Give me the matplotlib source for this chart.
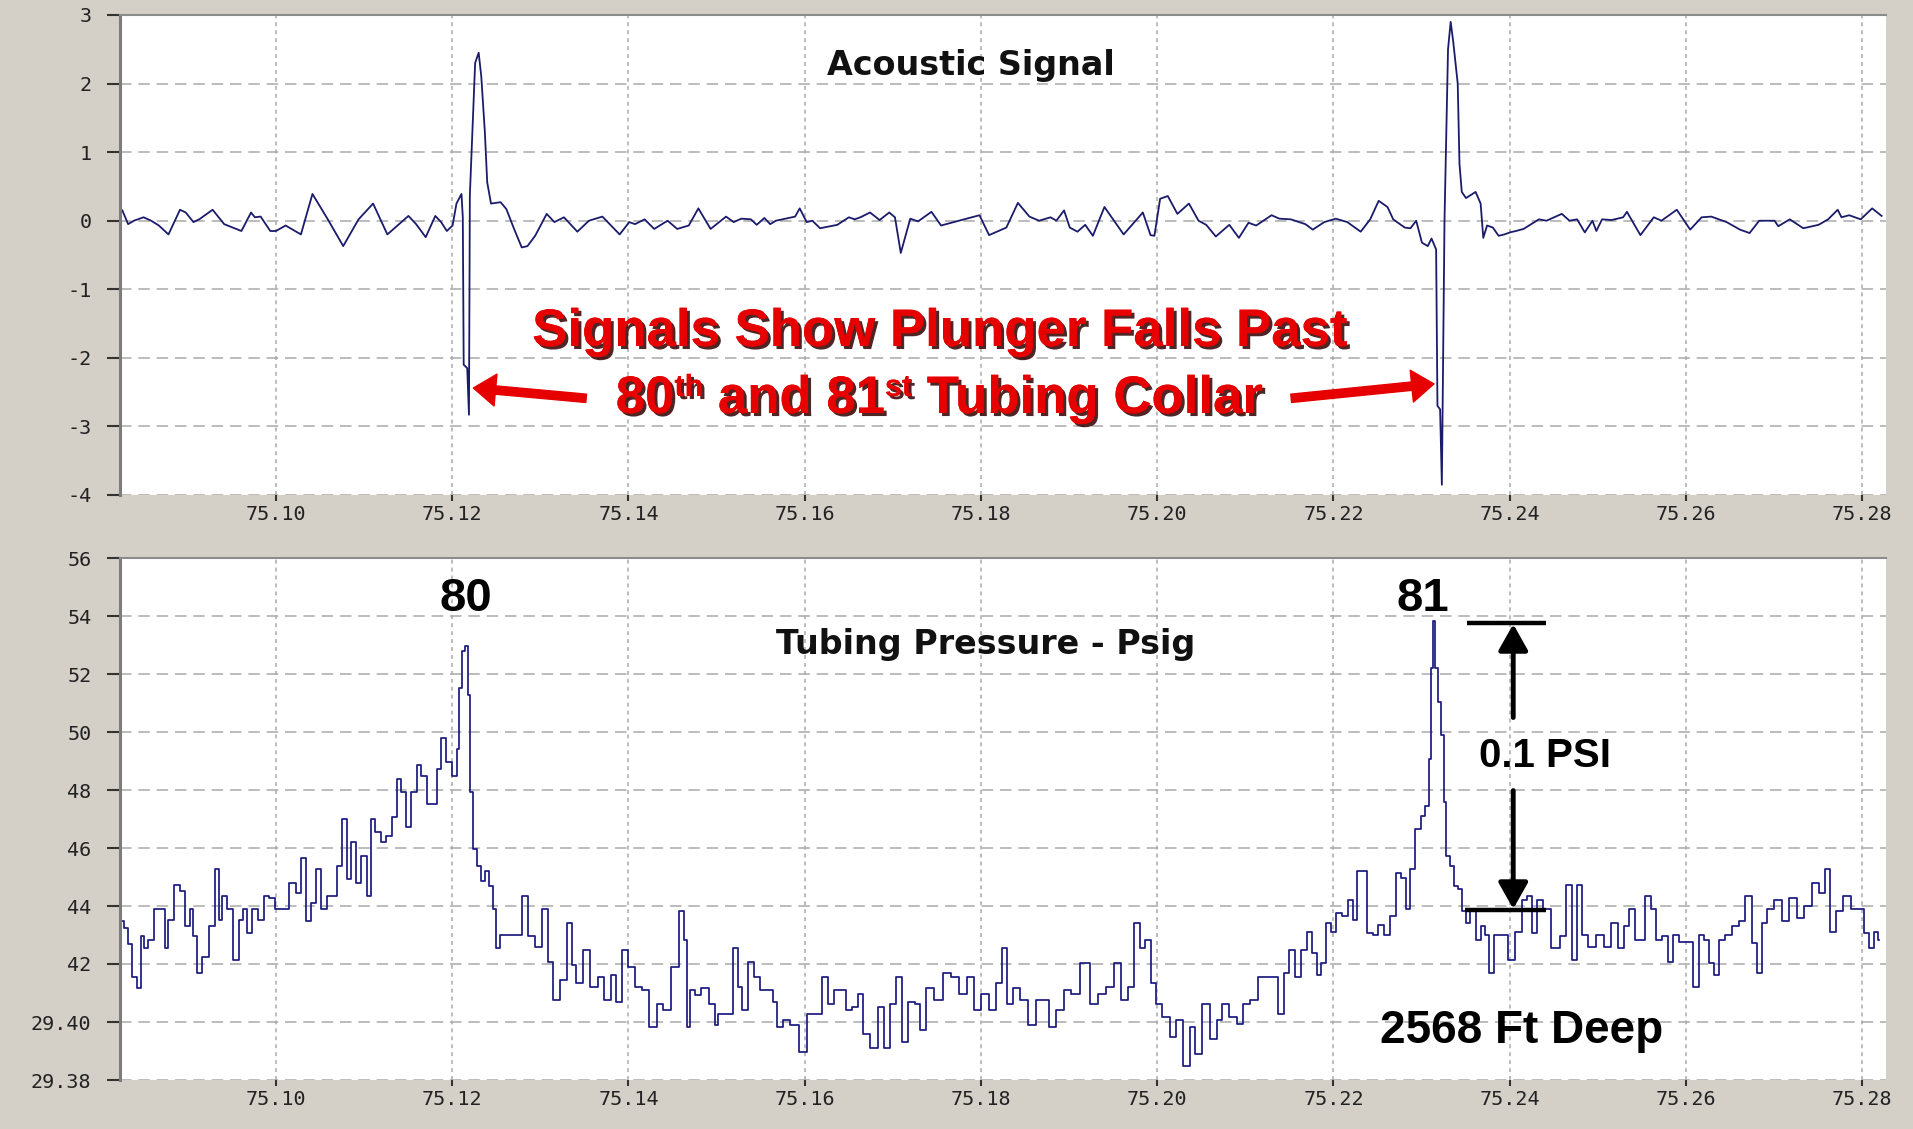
import matplotlib
matplotlib.use("Agg")
import matplotlib.pyplot as plt
from matplotlib import font_manager, patheffects

# ---------------- data ----------------
acoustic_x = [
    75.08257, 75.08322, 75.08388, 75.08497, 75.08584, 75.08671, 75.08780, 75.08845, 75.08911, 75.08976,
    75.09063, 75.09129, 75.09281, 75.09412, 75.09608, 75.09717, 75.09760, 75.09826, 75.09935, 75.10000,
    75.10109, 75.10283, 75.10414, 75.10588, 75.10763, 75.10937, 75.11102, 75.11264, 75.11503, 75.11590,
    75.11699, 75.11808, 75.11874, 75.11939, 75.12004, 75.12048, 75.12105, 75.12120, 75.12130, 75.12170,
    75.12190, 75.12200, 75.12260, 75.12300, 75.12330, 75.12370, 75.12397, 75.12440, 75.12549, 75.12614,
    75.12702, 75.12789, 75.12854, 75.12941, 75.13072, 75.13159, 75.13268, 75.13420, 75.13551, 75.13704,
    75.13900, 75.14009, 75.14074, 75.14183, 75.14292, 75.14444, 75.14553, 75.14684, 75.14793, 75.14932,
    75.15107, 75.15194, 75.15281, 75.15390, 75.15455, 75.15542, 75.15608, 75.15673, 75.15891, 75.15943,
    75.16022, 75.16087, 75.16174, 75.16370, 75.16501, 75.16567, 75.16632, 75.16741, 75.16850, 75.16959,
    75.17024, 75.17090, 75.17198, 75.17286, 75.17438, 75.17547, 75.17721, 75.17983, 75.18092, 75.18288,
    75.18419, 75.18550, 75.18659, 75.18790, 75.18855, 75.18943, 75.19008, 75.19095, 75.19183, 75.19270,
    75.19401, 75.19619, 75.19837, 75.19924, 75.19968, 75.20033, 75.20120, 75.20229, 75.20360, 75.20469,
    75.20556, 75.20665, 75.20818, 75.20927, 75.21036, 75.21123, 75.21298, 75.21385, 75.21516, 75.21681,
    75.21765, 75.21896, 75.22026, 75.22157, 75.22309, 75.22417, 75.22513, 75.22613, 75.22678, 75.22809,
    75.22874, 75.22939, 75.23004, 75.23070, 75.23113, 75.23165, 75.23180, 75.23210, 75.23230, 75.23260,
    75.23300, 75.23330, 75.23360, 75.23410, 75.23430, 75.23456, 75.23504, 75.23613, 75.23670, 75.23700,
    75.23743, 75.23809, 75.23874, 75.23939, 75.24004, 75.24070, 75.24157, 75.24331, 75.24417, 75.24504,
    75.24591, 75.24678, 75.24765, 75.24852, 75.24939, 75.24983, 75.25048, 75.25157, 75.25287, 75.25330,
    75.25483, 75.25635, 75.25722, 75.25896, 75.26048, 75.26178, 75.26287, 75.26461, 75.26613, 75.26722,
    75.26831, 75.27005, 75.27048, 75.27178, 75.27331, 75.27505, 75.27613, 75.27722, 75.27765, 75.27852,
    75.27983, 75.28113, 75.28220,
]
acoustic_y = [
    0.15, -0.05, 0.00, 0.05, 0.00, -0.07, -0.20, -0.02, 0.16, 0.12,
    -0.02, 0.02, 0.16, -0.05, -0.15, 0.12, 0.05, 0.06, -0.15, -0.15,
    -0.07, -0.20, 0.39, 0.02, -0.37, 0.02, 0.25, -0.20, 0.07, -0.05,
    -0.24, 0.07, -0.02, -0.15, -0.07, 0.25, 0.39, 0.05, -2.10, -2.15,
    -2.83, 0.37, 2.30, 2.45, 2.10, 1.30, 0.56, 0.25, 0.27, 0.17,
    -0.12, -0.39, -0.37, -0.22, 0.10, -0.02, 0.05, -0.16, 0.00, 0.06,
    -0.20, -0.02, -0.05, 0.02, -0.12, 0.00, -0.12, -0.07, 0.18, -0.12,
    0.06, -0.02, 0.03, 0.02, -0.06, 0.04, -0.05, 0.00, 0.06, 0.18,
    -0.02, 0.00, -0.11, -0.06, 0.05, 0.02, 0.05, 0.12, 0.01, 0.12,
    0.05, -0.47, 0.03, -0.01, 0.13, -0.07, -0.01, 0.08, -0.21, -0.10,
    0.26, 0.06, 0.00, 0.05, 0.00, 0.15, -0.10, -0.16, -0.06, -0.22,
    0.20, -0.20, 0.12, -0.21, -0.22, 0.32, 0.36, 0.10, 0.25, 0.00,
    -0.06, -0.23, -0.06, -0.25, -0.03, -0.07, 0.08, 0.03, 0.02, -0.05,
    -0.13, -0.02, 0.03, -0.02, -0.16, 0.02, 0.29, 0.20, 0.02, -0.10,
    -0.11, 0.00, -0.32, -0.37, -0.26, -0.42, -2.70, -2.75, -3.85, 0.00,
    2.50, 2.90, 2.60, 2.00, 0.83, 0.42, 0.33, 0.42, 0.25, -0.25,
    -0.07, -0.10, -0.22, -0.20, -0.17, -0.15, -0.12, 0.02, 0.00, 0.05,
    0.10, 0.00, 0.02, -0.17, 0.00, -0.15, 0.02, 0.01, 0.05, 0.13,
    -0.21, 0.05, 0.00, 0.16, -0.13, 0.05, 0.06, -0.02, -0.13, -0.18,
    0.00, 0.00, -0.08, 0.02, -0.11, -0.06, 0.02, 0.16, 0.05, 0.08,
    0.02, 0.18, 0.07,
]

pressure_x = [
    75.08257, 75.08301, 75.08344, 75.08388, 75.08453, 75.08475, 75.08519, 75.08584, 75.08649, 75.08715,
    75.08758, 75.08802, 75.08880, 75.08933, 75.08998, 75.09041, 75.09072, 75.09129, 75.09194, 75.09281,
    75.09333, 75.09368, 75.09412, 75.09477, 75.09543, 75.09608, 75.09651, 75.09695, 75.09760, 75.09826,
    75.09891, 75.09956, 75.10022, 75.10109, 75.10196, 75.10261, 75.10314, 75.10370, 75.10414, 75.10488,
    75.10545, 75.10610, 75.10675, 75.10719, 75.10776, 75.10828, 75.10885, 75.10937, 75.11002, 75.11059,
    75.11089, 75.11155, 75.11220, 75.11285, 75.11351, 75.11394, 75.11438, 75.11503, 75.11569, 75.11625,
    75.11677, 75.11743, 75.11799, 75.11852, 75.11904, 75.11961, 75.12039, 75.12070, 75.12091, 75.12122,
    75.12165, 75.12192, 75.12222, 75.12244, 75.12309, 75.12340, 75.12396, 75.12440, 75.12483, 75.12514,
    75.12571, 75.12745, 75.12832, 75.12889, 75.12985, 75.13063, 75.13115, 75.13181, 75.13268, 75.13333,
    75.13377, 75.13442, 75.13516, 75.13616, 75.13682, 75.13769, 75.13834, 75.13891, 75.13965, 75.14030,
    75.14117, 75.14183, 75.14292, 75.14357, 75.14422, 75.14553, 75.14605, 75.14649, 75.14671, 75.14727,
    75.14793, 75.14858, 75.14967, 75.14998, 75.15041, 75.15150, 75.15216, 75.15259, 75.15325, 75.15390,
    75.15455, 75.15521, 75.15630, 75.15651, 75.15717, 75.15782, 75.15891, 75.15987, 75.16065, 75.16152,
    75.16231, 75.16305, 75.16370, 75.16436, 75.16501, 75.16566, 75.16632, 75.16697, 75.16784, 75.16871,
    75.16928, 75.17002, 75.17067, 75.17133, 75.17220, 75.17285, 75.17329, 75.17416, 75.17525, 75.17612,
    75.17699, 75.17808, 75.17882, 75.17961, 75.18048, 75.18135, 75.18200, 75.18266, 75.18331, 75.18396,
    75.18483, 75.18592, 75.18658, 75.18745, 75.18810, 75.18897, 75.18985, 75.19050, 75.19202, 75.19281,
    75.19377, 75.19464, 75.19551, 75.19629, 75.19703, 75.19769, 75.19834, 75.19900, 75.19965, 75.20008,
    75.20096, 75.20183, 75.20248, 75.20335, 75.20401, 75.20466, 75.20553, 75.20640, 75.20706, 75.20771,
    75.20858, 75.20945, 75.21011, 75.21098, 75.21185, 75.21337, 75.21403, 75.21468, 75.21533, 75.21590,
    75.21664, 75.21739, 75.21783, 75.21835, 75.21891, 75.21948, 75.22000, 75.22065, 75.22130, 75.22196,
    75.22239, 75.22304, 75.22357, 75.22413, 75.22478, 75.22544, 75.22609, 75.22674, 75.22739, 75.22804,
    75.22848, 75.22891, 75.22957, 75.23022, 75.23065, 75.23096, 75.23122, 75.23139, 75.23165, 75.23209,
    75.23239, 75.23261, 75.23296, 75.23348, 75.23391, 75.23435, 75.23478, 75.23522, 75.23587, 75.23652,
    75.23696, 75.23739, 75.23791, 75.23848, 75.23935, 75.24022, 75.24109, 75.24174, 75.24226, 75.24270,
    75.24348, 75.24413, 75.24522, 75.24609, 75.24674, 75.24739, 75.24791, 75.24848, 75.24935, 75.25022,
    75.25109, 75.25196, 75.25261, 75.25326, 75.25391, 75.25457, 75.25500, 75.25565, 75.25631, 75.25696,
    75.25761, 75.25826, 75.25891, 75.25957, 75.26044, 75.26117, 75.26174, 75.26239, 75.26283, 75.26348,
    75.26413, 75.26478, 75.26565, 75.26631, 75.26718, 75.26774, 75.26835, 75.26892, 75.26957, 75.27044,
    75.27131, 75.27218, 75.27296, 75.27391, 75.27478, 75.27544, 75.27609, 75.27661, 75.27739, 75.27826,
    75.27913, 75.28000, 75.28043, 75.28109, 75.28152, 75.28196,
]
pressure_psig = [
    29.4347, 29.4324, 29.4270, 29.4156, 29.4116, 29.4295, 29.4254, 29.4283, 29.4388, 29.4388,
    29.4254, 29.4353, 29.4474, 29.4451, 29.4330, 29.4388, 29.4295, 29.4168, 29.4225, 29.4330,
    29.4526, 29.4353, 29.4434, 29.4388, 29.4214, 29.4353, 29.4388, 29.4307, 29.4388, 29.4353,
    29.4434, 29.4428, 29.4388, 29.4388, 29.4480, 29.4445, 29.4567, 29.4347, 29.4411, 29.4526,
    29.4388, 29.4434, 29.4434, 29.4538, 29.4700, 29.4492, 29.4619, 29.4480, 29.4573, 29.4434,
    29.4700, 29.4654, 29.4619, 29.4642, 29.4706, 29.4839, 29.4793, 29.4671, 29.4793, 29.4885,
    29.4850, 29.4752, 29.4752, 29.4874, 29.4978, 29.4897, 29.4850, 29.4943, 29.5151, 29.5279,
    29.5296, 29.5128, 29.4793, 29.4596, 29.4538, 29.4486, 29.4520, 29.4469, 29.4388, 29.4254,
    29.4300, 29.4300, 29.4434, 29.4295, 29.4260, 29.4388, 29.4208, 29.4075, 29.4144, 29.4341,
    29.4197, 29.4133, 29.4249, 29.4121, 29.4156, 29.4075, 29.4162, 29.4069, 29.4249, 29.4191,
    29.4121, 29.4110, 29.3982, 29.4063, 29.4040, 29.4191, 29.4382, 29.4283, 29.3982, 29.4110,
    29.4092, 29.4116, 29.4063, 29.3988, 29.4029, 29.4029, 29.4254, 29.4121, 29.4040, 29.4208,
    29.4156, 29.4110, 29.4110, 29.4069, 29.3982, 29.4006, 29.3988, 29.3897, 29.4029, 29.4029,
    29.4156, 29.4063, 29.4110, 29.4110, 29.4040, 29.4052, 29.4098, 29.3959, 29.3910, 29.4052,
    29.3910, 29.4063, 29.4156, 29.3930, 29.4069, 29.4063, 29.3971, 29.4116, 29.4075, 29.4168,
    29.4156, 29.4098, 29.4156, 29.4040, 29.4098, 29.4040, 29.4133, 29.4254, 29.4063, 29.4116,
    29.4075, 29.3988, 29.4075, 29.4075, 29.3982, 29.4040, 29.4110, 29.4098, 29.4202, 29.4063,
    29.4098, 29.4121, 29.4202, 29.4075, 29.4121, 29.4341, 29.4254, 29.4283, 29.4133, 29.4063,
    29.4017, 29.3948, 29.4006, 29.3850, 29.3982, 29.3890, 29.4063, 29.3940, 29.4006, 29.4063,
    29.4017, 29.3994, 29.4063, 29.4075, 29.4156, 29.4156, 29.4029, 29.4168, 29.4249, 29.4156,
    29.4249, 29.4312, 29.4237, 29.4162, 29.4202, 29.4341, 29.4312, 29.4376, 29.4364, 29.4422,
    29.4353, 29.4520, 29.4520, 29.4307, 29.4300, 29.4335, 29.4300, 29.4364, 29.4515, 29.4497,
    29.4388, 29.4526, 29.4665, 29.4712, 29.4746, 29.4908, 29.5221, 29.5383, 29.5221, 29.5105,
    29.4989, 29.4758, 29.4573, 29.4538, 29.4469, 29.4457, 29.4382, 29.4341, 29.4388, 29.4283,
    29.4330, 29.4300, 29.4168, 29.4300, 29.4300, 29.4214, 29.4312, 29.4422, 29.4434, 29.4307,
    29.4422, 29.4388, 29.4254, 29.4295, 29.4474, 29.4214, 29.4474, 29.4300, 29.4260, 29.4300,
    29.4260, 29.4341, 29.4254, 29.4330, 29.4388, 29.4283, 29.4283, 29.4434, 29.4388, 29.4283,
    29.4295, 29.4208, 29.4300, 29.4277, 29.4277, 29.4121, 29.4300, 29.4283, 29.4202, 29.4162,
    29.4283, 29.4300, 29.4330, 29.4347, 29.4434, 29.4272, 29.4168, 29.4341, 29.4388, 29.4422,
    29.4347, 29.4428, 29.4358, 29.4399, 29.4480, 29.4445, 29.4526, 29.4312, 29.4382, 29.4434,
    29.4388, 29.4388, 29.4307, 29.4254, 29.4312, 29.4283,
]

acoustic_yticks = [-4, -3, -2, -1, 0, 1, 2, 3]
pressure_yticks = [29.38, 29.40, 29.42, 29.44, 29.46, 29.48, 29.50, 29.52, 29.54, 29.56]
pressure_ylabels = ["29.38", "29.40", "42", "44", "46", "48", "50", "52", "54", "56"]
time_ticks = [75.10, 75.12, 75.14, 75.16, 75.18, 75.20, 75.22, 75.24, 75.26, 75.28]
time_labels = ["75.10", "75.12", "75.14", "75.16", "75.18", "75.20", "75.22", "75.24", "75.26", "75.28"]

# ---------------- fonts ----------------
avail = {f.name for f in font_manager.fontManager.ttflist}
NARROW = "Liberation Sans Narrow" if "Liberation Sans Narrow" in avail else "Liberation Sans"
ARIAL = "Liberation Sans" if "Liberation Sans" in avail else "DejaVu Sans"
RED_SIZE = 44 if NARROW == "Liberation Sans Narrow" else 38
SUP_SIZE = 26 if NARROW == "Liberation Sans Narrow" else 22

BG = "#d4d0c8"
W, H = 1913, 1129
fig = plt.figure(figsize=(W / 100, H / 100), dpi=100, facecolor=BG)

L, R = 120, 1886
ax1 = fig.add_axes([L / W, 1 - 495 / H, (R - L) / W, (495 - 15) / H])
ax2 = fig.add_axes([L / W, 1 - 1080 / H, (R - L) / W, (1080 - 558) / H])

XLIM = (75.0823, 75.2827)
tick_font = dict(family="DejaVu Sans Mono", size=14.5, color="#222222")

for ax in (ax1, ax2):
    ax.set_facecolor("white")
    ax.set_xlim(*XLIM)
    ax.set_xticks(time_ticks)
    ax.set_xticklabels(time_labels, fontdict=tick_font)
    ax.tick_params(axis="x", direction="out", length=4, width=1.5, color="#333333", pad=3)
    ax.tick_params(axis="y", direction="out", length=9.5, width=1.5, color="#333333", pad=11)
    ax.yaxis.grid(True, linestyle=(0, (7.5, 4.5)), color="#a9a9a9", lw=1.1)
    ax.xaxis.grid(True, linestyle=(0, (2.6, 2.6)), color="#a9a9a9", lw=1.1)
    ax.set_axisbelow(True)
    for s in ("right", "bottom"):
        ax.spines[s].set_visible(False)
    ax.spines["left"].set_color("#7c7c7c")
    ax.spines["left"].set_linewidth(2.2)
    ax.spines["top"].set_color("#8c8c8c")
    ax.spines["top"].set_linewidth(1.5)

# ---------------- acoustic ----------------
ax1.plot(acoustic_x, acoustic_y, color="#1b1b6b", lw=1.3)
ax1.set_ylim(-4, 3)
ax1.set_yticks(acoustic_yticks)
ax1.set_yticklabels([str(v) for v in acoustic_yticks], fontdict=tick_font)
ax1.text(0.482, 0.894, "Acoustic Signal", transform=ax1.transAxes, ha="center", va="center",
         fontsize=24, fontweight="bold", family="DejaVu Sans", color="#111111")

# ---------------- pressure ----------------
ax2.plot(pressure_x, pressure_psig, color="#1a1a80", lw=1.25, drawstyle="steps-mid")
ax2.set_ylim(29.38, 29.56)
ax2.set_yticks(pressure_yticks)
ax2.set_yticklabels(pressure_ylabels, fontdict=tick_font)
ax2.text(0.490, 0.835, "Tubing Pressure - Psig", transform=ax2.transAxes, ha="center", va="center",
         fontsize=24, fontweight="bold", family="DejaVu Sans", color="#111111")

# ---------------- red annotation ----------------
RED = "#e60000"
shadow = [patheffects.withSimplePatchShadow(offset=(2.2, -2.2), shadow_rgbFace="#300000", alpha=0.85),
          patheffects.Normal()]
ax1.text(0.4638, 0.3396, "Signals Show Plunger Falls Past", transform=ax1.transAxes,
         ha="center", va="center", fontsize=RED_SIZE, fontweight="bold", family=NARROW, color=RED,
         path_effects=shadow)

renderer = fig.canvas.get_renderer()
pieces = [("80", False), ("th", True), (" and 81", False), ("st", True), (" Tubing Collar", False)]
objs = []
for s, sup in pieces:
    t = fig.text(0, 0, s, fontsize=SUP_SIZE if sup else RED_SIZE, fontweight="bold", family=NARROW,
                 color=RED, va="baseline", ha="left", path_effects=shadow)
    objs.append((t, t.get_window_extent(renderer).width, sup))
total = sum(w for _, w, _ in objs)
cx_px, base_px = 939, H - 413
x = cx_px - total / 2
for t, w, sup in objs:
    yb = base_px + (17 if sup else 0)
    t.set_position((x / W, yb / H))
    x += w

arrow_red = dict(arrowstyle="simple,head_length=0.8,head_width=1.15,tail_width=0.3",
                 color=RED, mutation_scale=20, shrinkA=0, shrinkB=0)
ax1.annotate("", xy=(75.1224, -2.44), xytext=(75.1352, -2.59), arrowprops=arrow_red)
ax1.annotate("", xy=(75.2314, -2.38), xytext=(75.2152, -2.59), arrowprops=arrow_red)

# ---------------- black annotations ----------------
ax2.text(75.1215, 29.5459, "80", ha="center", va="center", fontsize=34, fontweight="bold",
         family=NARROW, color="black")
ax2.text(75.2301, 29.5459, "81", ha="center", va="center", fontsize=34, fontweight="bold",
         family=NARROW, color="black")
ax2.text(75.2440, 29.4917, "0.1 PSI", ha="center", va="center", fontsize=29, fontweight="bold",
         family=ARIAL, color="black")
ax2.text(75.2413, 29.3969, "2568 Ft Deep", ha="center", va="center", fontsize=33, fontweight="bold",
         family=ARIAL, color="black")

ax2.plot([75.2351, 75.2441], [29.53745, 29.53745], color="black", lw=3.2, solid_capstyle="butt")
ax2.plot([75.2349, 75.2441], [29.4386, 29.4386], color="black", lw=3.2, solid_capstyle="butt")
arrow_blk = dict(arrowstyle="-|>,head_length=0.8,head_width=0.45", color="black", lw=3.5,
                 mutation_scale=20, shrinkA=0, shrinkB=0)
ax2.annotate("", xy=(75.2404, 29.5372), xytext=(75.2404, 29.5050), arrowprops=arrow_blk)
ax2.annotate("", xy=(75.2404, 29.4390), xytext=(75.2404, 29.4798), arrowprops=arrow_blk)

fig.savefig("out.png", dpi=100, facecolor=BG)
